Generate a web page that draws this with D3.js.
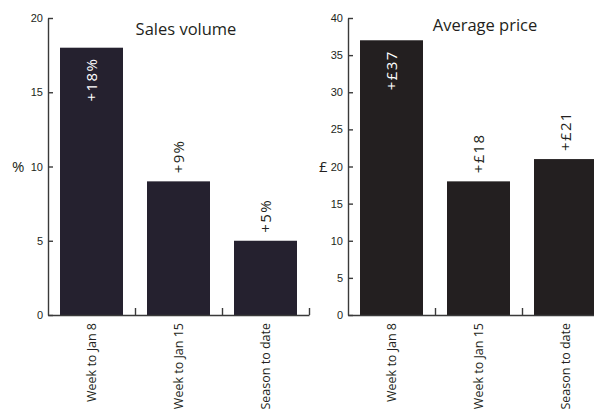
<!DOCTYPE html>
<html>
<head>
<meta charset="utf-8">
<script src="https://cdn.jsdelivr.net/npm/d3@7"></script>
<style>
  html, body { margin: 0; padding: 0; background: #fff; }
  svg { display: block; font-family: "Open Sans", "Noto Sans", sans-serif; }
</style>
</head>
<body>
<svg id="chart" width="594" height="413"></svg>
<script>
// Shared categories
const categories = ["Week to Jan 8", "Week to Jan 15", "Season to date"];

// Sales volume change, %
const volumeValues = [18, 9, 5];
const volumeLabels = ["+18%", "+9%", "+5%"];
const volumeTicks = [0, 5, 10, 15, 20];

// Average price change, £
const priceValues = [37, 18, 21];
const priceLabels = ["+£37", "+£18", "+£21"];
const priceTicks = [0, 5, 10, 15, 20, 25, 30, 35, 40];

const svg = d3.select("#chart");
const axisColor = "#3a3a3a";
const textColor = "#231f20";

function panel(opts) {
  const g = svg.append("g").attr("transform", `translate(${opts.left},0)`);
  const top = 18, bottom = 315, width = 261;

  const x = d3.scaleBand().domain(categories).range([0, width])
    .paddingInner(0.276).paddingOuter(0.138);
  const y = d3.scaleLinear().domain([0, opts.max]).range([bottom, top]);

  // bars
  g.selectAll("rect.bar").data(opts.values).join("rect")
    .attr("class", "bar")
    .attr("x", (d, i) => x(categories[i]))
    .attr("width", x.bandwidth())
    .attr("y", d => y(d))
    .attr("height", d => y(0) - y(d))
    .attr("fill", opts.color);

  // y axis with inward ticks
  const yAxis = g.append("g").call(
    d3.axisRight(y).tickValues(opts.ticks).tickSize(5).tickSizeOuter(0).tickFormat(d3.format("d"))
  );
  yAxis.select(".domain").attr("stroke", axisColor).attr("stroke-width", 1.4);
  yAxis.selectAll(".tick line").attr("stroke", axisColor).attr("stroke-width", 1.4);
  yAxis.selectAll(".tick text")
    .attr("x", -5).attr("text-anchor", "end")
    .attr("fill", textColor).style("font-size", "11px");

  // baseline with separator ticks pointing up
  const sepScale = d3.scaleLinear().domain([0, categories.length]).range([0, width]);
  const xAxis = g.append("g").attr("transform", `translate(0,${bottom})`).call(
    d3.axisTop(sepScale).tickValues([1, 2, 3]).tickSize(7).tickSizeOuter(0).tickFormat("")
  );
  xAxis.select(".domain").attr("stroke", axisColor).attr("stroke-width", 1.4);
  xAxis.selectAll(".tick line").attr("stroke", axisColor).attr("stroke-width", 1.4);

  // category labels, rotated
  g.selectAll("text.cat").data(categories).join("text")
    .attr("class", "cat")
    .attr("transform", d => `translate(${x(d) + x.bandwidth() / 2},${bottom + 8}) rotate(-90)`)
    .attr("dy", "0.35em")
    .attr("text-anchor", "end")
    .attr("fill", textColor)
    .style("font-size", "12.5px")
    .text(d => d);

  // value labels: inside the tallest bar, above the others
  g.selectAll("text.val").data(opts.values).join("text")
    .attr("class", "val")
    .attr("transform", (d, i) => {
      const cx = x(categories[i]) + x.bandwidth() / 2;
      const yy = i === 0 ? y(d) + 10 : y(d) - 8;
      return `translate(${cx},${yy}) rotate(-90)`;
    })
    .attr("dy", "0.35em")
    .attr("text-anchor", (d, i) => i === 0 ? "end" : "start")
    .attr("fill", (d, i) => i === 0 ? "#ffffff" : textColor)
    .style("font-size", "15px")
    .style("letter-spacing", "1.4px")
    .text((d, i) => opts.labels[i]);

  // title
  g.append("text")
    .attr("x", opts.titleX).attr("y", opts.titleY)
    .attr("text-anchor", "middle")
    .attr("fill", textColor)
    .style("font-size", "16.5px")
    .text(opts.title);

  // unit
  g.append("text")
    .attr("x", opts.unitX).attr("y", y(opts.unitAt))
    .attr("dy", "0.35em")
    .attr("fill", textColor)
    .style("font-size", "15px")
    .text(opts.unit);
}

panel({
  left: 48, max: 20, values: volumeValues, labels: volumeLabels, ticks: volumeTicks,
  color: "#25212f", title: "Sales volume", titleX: 138, titleY: 35,
  unit: "%", unitX: -36, unitAt: 10
});

panel({
  left: 348, max: 40, values: priceValues, labels: priceLabels, ticks: priceTicks,
  color: "#231f20", title: "Average price", titleX: 137, titleY: 31,
  unit: "£", unitX: -29, unitAt: 20
});
</script>
</body>
</html>
